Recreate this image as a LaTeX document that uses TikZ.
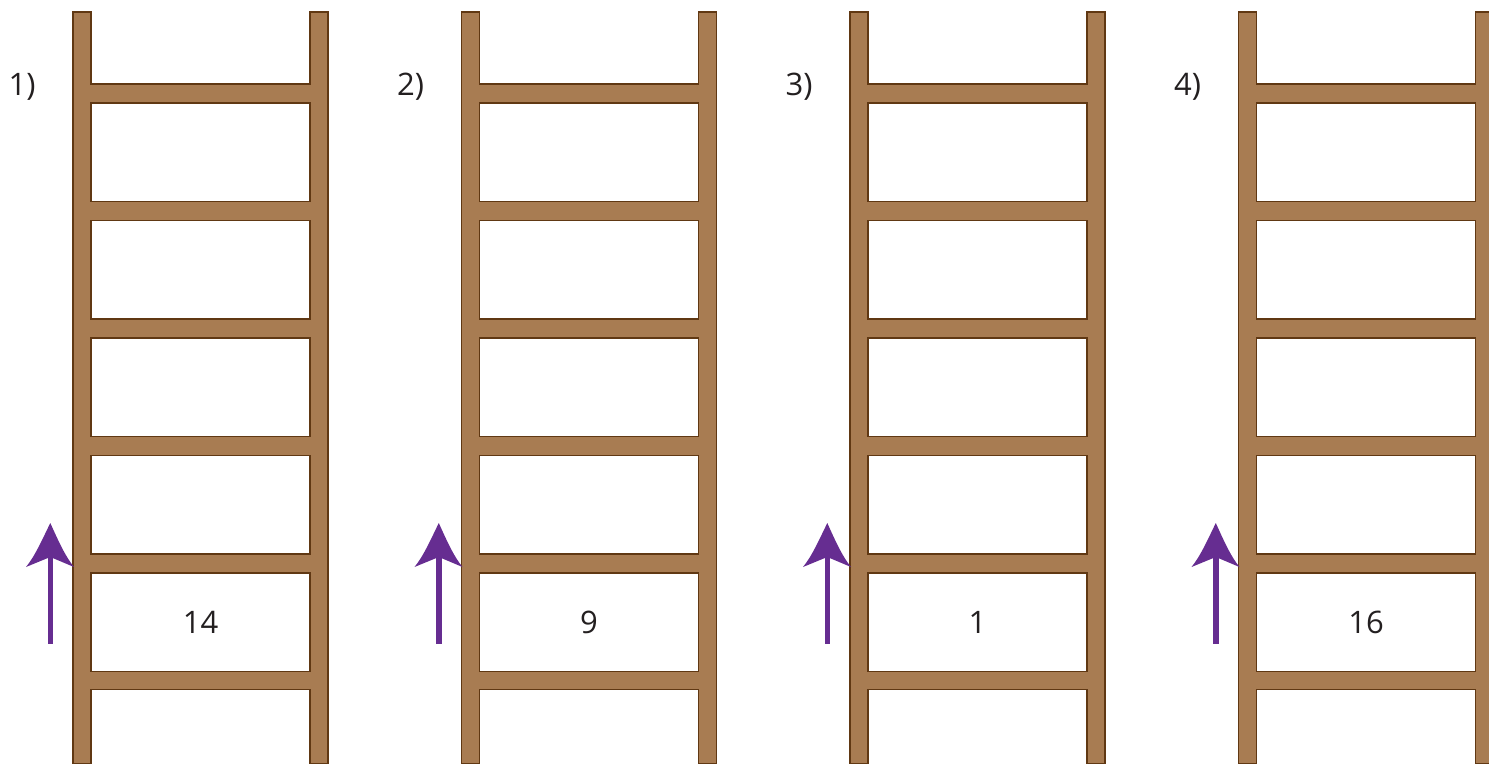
\documentclass[tikz,border=0pt]{standalone}
\usepackage{fontspec}
\setmainfont{Open Sans}
\definecolor{wood}{RGB}{168,124,82}
\definecolor{woodline}{RGB}{96,56,19}
\definecolor{arrowpurple}{RGB}{102,45,145}
\definecolor{txt}{RGB}{35,31,32}
\begin{document}
\begin{tikzpicture}[x=1pt,y=-1pt,
  rail/.style={fill=wood,draw=woodline,line width=1.5pt,line join=miter},
  hole/.style={fill=white,draw=woodline,line width=1.5pt},
  arrowfill/.style={fill=arrowpurple},
  lbl/.style={font=\fontsize{31}{38}\selectfont,text=txt,inner sep=0pt}]
\useasboundingbox (0,0) rectangle (1489,764);
\foreach \i/\n/\m in {0/14/1,1/9/2,2/1/3,3/16/4} {
  \begin{scope}[xshift=\i*388.5pt]
    \draw[rail] (73,12) -- (91,12) -- (91,84) -- (310,84) -- (310,12) -- (328,12)
      -- (328,763.5) -- (310,763.5) -- (310,689.5) -- (91,689.5) -- (91,763.5)
      -- (73,763.5) -- cycle;
    \foreach \k in {0,...,4}
      \draw[hole] (91,103+117.5*\k) rectangle (310,201.5+117.5*\k);
    \fill[arrowfill] (47.6,644) rectangle (53,552);
    \fill[arrowfill] (50.3,523) .. controls (58,540) and (65,556) .. (74,567)
      -- (50.3,557) -- (26,567) .. controls (35,556) and (42,540) .. (50.3,523) -- cycle;
    \node[lbl] (num\m) at (200.5,622) {\n};
    \node[lbl] (lab\m) at (22,87) {\m)};
  \end{scope}
}
\end{tikzpicture}
\end{document}
